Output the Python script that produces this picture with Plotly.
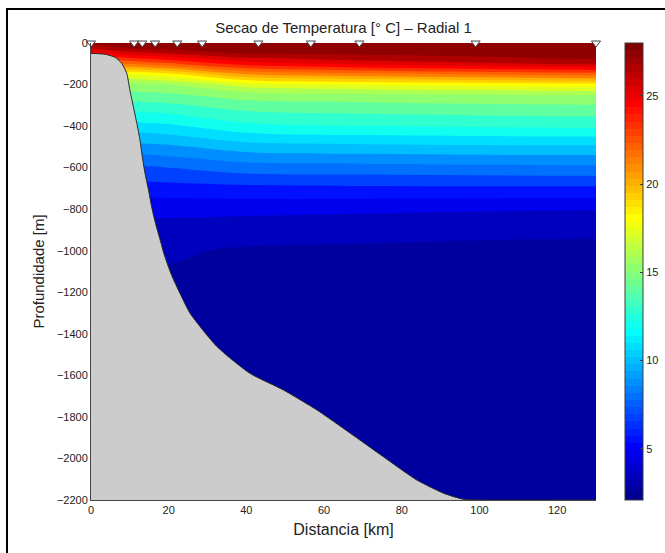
import plotly.graph_objects as go

# ---------------- data ----------------
stations_km = [0, 11.1, 13.2, 16.5, 22.2, 28.6, 43.1, 56.6, 69.1, 99.0, 130.0]

section_x = [0, 10, 20, 40, 70, 100, 130]
section_depth = [0, -25, -50, -75, -100, -150, -200, -250, -300, -400, -500,
                 -600, -700, -800, -900, -1000, -1200, -1500, -2200]
# temperature [deg C]; one row per depth, one column per section_x
temp_x0   = [26.9, 25.6, 24.0, 22.4, 21.0, 17.4, 15.1, 14.0, 13.0, 11.0, 9.0, 7.2, 5.9, 4.8, 4.1, 3.6, 3.3, 3.1, 3.0]
temp_x10  = [27.2, 26.5, 25.0, 23.3, 21.6, 17.6, 15.2, 14.1, 13.1, 11.1, 9.1, 7.3, 6.0, 4.8, 4.1, 3.6, 3.3, 3.1, 3.0]
temp_x20  = [27.3, 26.8, 25.5, 23.9, 22.3, 18.2, 15.5, 14.3, 13.3, 11.3, 9.3, 7.5, 6.1, 4.8, 4.1, 3.6, 3.3, 3.1, 3.0]
temp_x40  = [27.3, 27.0, 26.5, 25.3, 24.0, 20.5, 17.0, 15.0, 14.0, 12.2, 10.0, 8.0, 6.2, 4.8, 3.9, 3.4, 3.2, 3.1, 3.0]
temp_x70  = [27.3, 27.1, 26.7, 25.9, 24.8, 21.2, 17.6, 15.2, 14.2, 12.5, 10.2, 8.1, 6.3, 4.7, 3.8, 3.35, 3.2, 3.1, 3.0]
temp_x100 = [27.3, 27.1, 26.8, 26.3, 25.3, 21.6, 17.9, 15.4, 14.35, 12.6, 10.3, 8.2, 6.3, 4.6, 3.7, 3.3, 3.2, 3.1, 3.0]
temp_x130 = [27.3, 27.1, 26.9, 26.6, 25.7, 22.0, 18.1, 15.5, 14.45, 12.7, 10.3, 8.27, 6.3, 4.55, 3.65, 3.3, 3.2, 3.1, 3.0]

bathy_x = [0, 3.6, 6.2, 7.9, 9.2, 10.0, 10.9, 11.8, 12.6, 13.2, 13.9, 14.8, 15.6,
           16.6, 17.8, 19.0, 20.8, 22.9, 25.5, 32.4, 40.9, 49.5, 58.1, 66.7,
           75.2, 83.8, 90.7, 95.8, 100.0, 130.0]
bathy_z = [-50, -54, -69, -98, -146, -226, -306, -387, -467, -547, -627, -707, -788,
           -868, -948, -1028, -1120, -1205, -1301, -1461, -1590, -1670, -1766, -1878,
           -1991, -2103, -2167, -2196, -2200, -2200]

x_ticks = [0, 20, 40, 60, 80, 100, 120]
y_ticks = [0, -200, -400, -600, -800, -1000, -1200, -1400, -1600, -1800, -2000, -2200]
cbar_ticks = [5, 10, 15, 20, 25]
cmin, cmax = 2.1, 28.0

# ---------------- styling helpers ----------------
def jet64():
    cols = []
    for k in range(1, 65):
        if k <= 56:
            r = min(max((k - 24) / 16, 0), 1)
        else:
            r = 1 - (k - 56) / 16
        if k <= 40:
            g = min(max((k - 8) / 16, 0), 1)
        else:
            g = max(1 - (k - 40) / 16, 0)
        if k <= 8:
            b = 0.5 + k / 16
        elif k <= 24:
            b = 1.0
        else:
            b = max(1 - (k - 24) / 16, 0)
        cols.append("rgb(%d,%d,%d)" % (round(r * 255), round(g * 255), round(b * 255)))
    scale = []
    for i, c in enumerate(cols):
        scale.append([i / 64, c])
        scale.append([(i + 1) / 64, c])
    return scale

JET = jet64()
FONT = "Liberation Sans, Arial, Helvetica, sans-serif"
PLOT_L, PLOT_R, PLOT_T, PLOT_B = 91, 596, 43, 500
PW, PH = PLOT_R - PLOT_L, PLOT_B - PLOT_T

temp_rows = [list(r) for r in zip(temp_x0, temp_x10, temp_x20, temp_x40, temp_x70, temp_x100, temp_x130)]

fig = go.Figure()

fig.add_trace(go.Contour(
    x=section_x, y=section_depth, z=temp_rows,
    colorscale=JET, zauto=False, zmin=cmin, zmax=cmax,
    contours=dict(start=2.5, end=28.5, size=1, coloring="fill", showlines=False),
    line=dict(width=0), showscale=False, hoverinfo="skip",
))

# seabed (gray)
fig.add_trace(go.Scatter(
    x=bathy_x + [bathy_x[-1], bathy_x[0]],
    y=bathy_z + [y_ticks[-1], y_ticks[-1]],
    mode="lines", fill="toself", fillcolor="rgb(204,204,204)",
    line=dict(width=0, shape="spline", smoothing=0.6), showlegend=False, hoverinfo="skip",
))
fig.add_trace(go.Scatter(
    x=bathy_x, y=bathy_z, mode="lines",
    line=dict(color="rgb(40,40,40)", width=1, shape="spline", smoothing=0.6),
    showlegend=False, hoverinfo="skip",
))

# stations
fig.add_trace(go.Scatter(
    x=stations_km, y=[0] * len(stations_km), mode="markers",
    marker=dict(symbol="triangle-down", size=8, color="white",
                line=dict(color="rgb(70,70,70)", width=1)),
    cliponaxis=False, showlegend=False, hoverinfo="skip",
))

# colorbar holder
fig.add_trace(go.Scatter(
    x=[None], y=[None], mode="markers",
    marker=dict(color=[cmin], cmin=cmin, cmax=cmax, colorscale=JET, showscale=True,
                colorbar=dict(x=(625 - PLOT_L) / PW, xanchor="left", xpad=0, ypad=0,
                              y=0.5, yanchor="middle",
                              len=1.0, lenmode="fraction", thickness=18,
                              outlinewidth=1, outlinecolor="rgb(60,60,60)",
                              tickvals=cbar_ticks, ticks="inside", ticklen=3,
                              tickcolor="rgb(60,60,60)",
                              tickfont=dict(family=FONT, size=11, color="#222"))),
    showlegend=False, hoverinfo="skip",
))

fig.update_layout(
    width=665, height=553,
    margin=dict(l=PLOT_L, r=665 - PLOT_R, t=PLOT_T, b=553 - PLOT_B, autoexpand=False),
    paper_bgcolor="white", plot_bgcolor="white",
    font=dict(family=FONT, size=11, color="#222"),
    title=dict(text="Secao de Temperatura [° C] – Radial 1", x=343.5 / 665, xanchor="center",
               y=1 - 28 / 553, yanchor="middle", font=dict(family=FONT, size=15, color="#222")),
    xaxis=dict(range=[0, 130], tickvals=x_ticks, showgrid=False, zeroline=False,
               showline=True, linecolor="rgb(70,70,70)", linewidth=1, ticks="",
               title=dict(text="Distancia [km]", font=dict(family=FONT, size=16, color="#222"), standoff=8),
               tickfont=dict(family=FONT, size=11, color="#222")),
    yaxis=dict(range=[-2200, 0], tickvals=y_ticks, showgrid=False, zeroline=False,
               showline=True, linecolor="rgb(70,70,70)", linewidth=1, ticks="",
               title=dict(text="Profundidade [m]", font=dict(family=FONT, size=15, color="#222"), standoff=8),
               tickfont=dict(family=FONT, size=11, color="#222")),
    shapes=[dict(type="rect", xref="paper", yref="paper",
                 x0=(7 - PLOT_L) / PW, x1=1.5, y0=-0.5, y1=(PLOT_B - 9) / PH,
                 line=dict(color="black", width=2), fillcolor="rgba(0,0,0,0)", layer="above")],
    showlegend=False,
)

fig.write_html("out.html")
